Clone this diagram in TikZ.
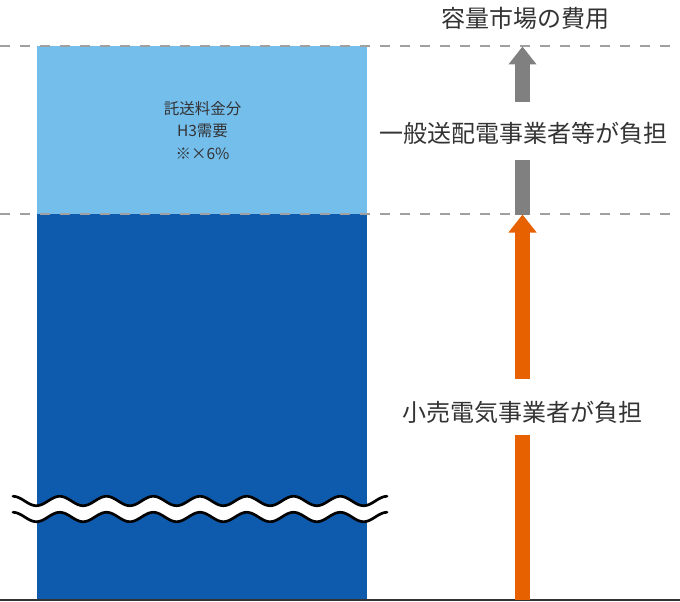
\documentclass[tikz,border=0pt]{standalone}
\usepackage{fontspec}
\newfontfamily\jp{Noto Sans CJK JP}
\usetikzlibrary{arrows.meta}
\definecolor{usuao}{RGB}{116, 190, 236}
\definecolor{koiao}{RGB}{14, 91, 173}
\definecolor{daidai}{RGB}{232, 97, 0}
\definecolor{nezumi}{RGB}{128, 128, 128}
\definecolor{sumi}{RGB}{51, 51, 51}
\definecolor{usuzumi}{RGB}{160, 160, 160}
\tikzset{
    bigtxt/.style={text=sumi, font=\jp\fontsize{24}{28}\selectfont, inner sep=0pt},
    boxtxt/.style={text=sumi, font=\jp\fontsize{15.5}{22.5}\selectfont, align=center, inner sep=0pt},
    guide/.style={usuzumi, line width=1.5pt, dash pattern=on 10pt off 10pt},
    baseln/.style={sumi, line width=2pt},
    arr/.style={line width=15pt, -{Triangle[width=27pt,length=18pt]}},
    shaft/.style={line width=15pt},
    wavy/.style={black, line width=2.7pt, line cap=round},
}

\begin{document}
\begin{tikzpicture}[x=1pt, y=-1pt]
    \useasboundingbox (0,0) rectangle (680,602);
    % bars
    \fill[koiao] (37,214) rectangle (367,600);
    \fill[usuao] (37,46) rectangle (367,214);
    \node[boxtxt] (naiyou) at (202.5,130.5) {託送料金分\\H3需要\\※×6\%};

    % break mark
    \fill[white] plot[domain=13:387, samples=200] (\x, {501-4.7*cos(7.7005*(\x-13))})
        -- plot[domain=387:13, samples=200] (\x, {517-4.7*cos(7.7005*(\x-13))}) -- cycle;
    \draw[wavy] plot[domain=13:387, samples=200] (\x, {501-4.7*cos(7.7005*(\x-13))});
    \draw[wavy] plot[domain=13:387, samples=200] (\x, {517-4.7*cos(7.7005*(\x-13))});

    % guide lines
    \draw[guide] (0,46) -- (680,46);
    \draw[guide] (0,214) -- (680,214);
    \draw[baseln] (0,600) -- (680,600);

    % labels
    \node[bigtxt] (ttl) at (525,18) {容量市場の費用};
    \node[bigtxt] (ippan) at (523,133) {一般送配電事業者等が負担};
    \node[bigtxt] (kouri) at (522,412) {小売電気事業者が負担};

    % arrows
    \coordinate (g0) at (522.5,215);
    \coordinate (g1) at (522.5,160);
    \coordinate (g2) at (522.5,102);
    \coordinate (g3) at (522.5,46.5);
    \coordinate (o0) at (522.5,600);
    \coordinate (o1) at (522.5,435);
    \coordinate (o2) at (522.5,379);
    \coordinate (o3) at (522.5,214.5);

    \draw[shaft, nezumi] (g0) -- (g1);
    \draw[arr, nezumi] (g2) -- (g3);
    \draw[shaft, daidai] (o0) -- (o1);
    \draw[arr, daidai] (o2) -- (o3);
\end{tikzpicture}
\end{document}
